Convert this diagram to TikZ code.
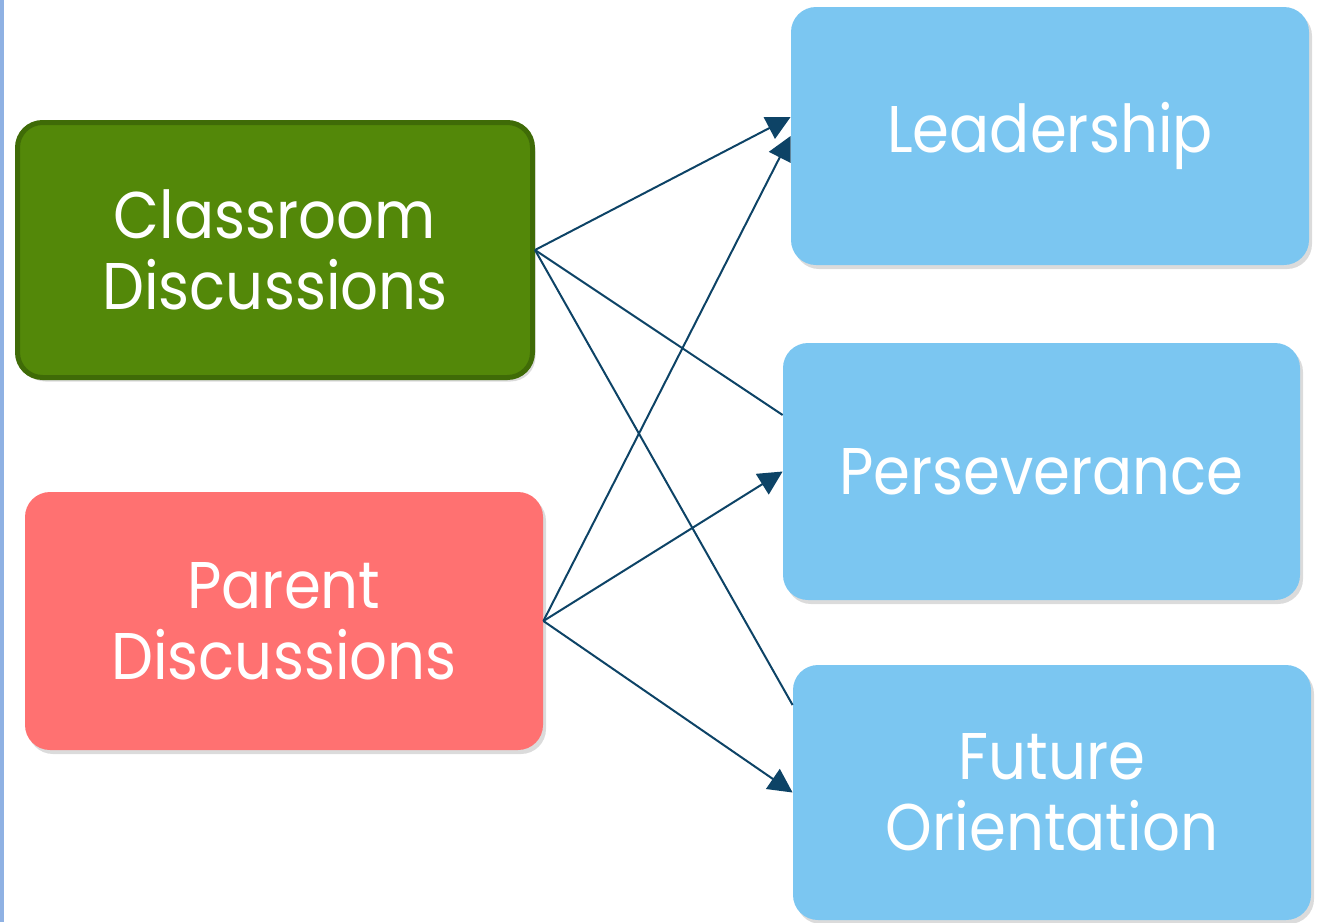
\documentclass[tikz,border=0pt]{standalone}
\usepackage{fontspec}
\setmainfont{Poppins}[FakeStretch=0.9]
\usetikzlibrary{arrows.meta,shadows}
\definecolor{grn}{HTML}{538809}
\definecolor{grnb}{HTML}{3F6B07}
\definecolor{pnk}{HTML}{FF7171}
\definecolor{sky}{HTML}{7BC6F1}
\definecolor{lnk}{HTML}{0D4366}
\definecolor{side}{HTML}{8FB1E3}
\begin{document}
\begin{tikzpicture}[x=0.5pt,y=-0.5pt,
  box/.style={rounded corners=12.5pt, minimum width=259pt, minimum height=129pt,
    text=white, align=center, font=\fontsize{33}{35.5}\selectfont, inner sep=0pt,
    drop shadow={shadow xshift=1.5pt, shadow yshift=-2pt, opacity=0.2, fill=black!70}},
  conn/.style={draw=lnk, line width=1pt},
  arr/.style={conn, -{Triangle[length=12pt,width=12pt]}}]
\useasboundingbox (0,0) rectangle (1320,922);
\fill[side] (0,0) rectangle (4,922);
\node[box, fill=grn, draw=grnb, line width=2.5pt, minimum width=257.5pt, minimum height=127.5pt] (c) at (275,250) {Classroom\\Discussions};
\node[box, fill=pnk] (p) at (284,621) {Parent\\Discussions};
\node[box, fill=sky] (l) at (1050,136) {Leadership};
\node[box, fill=sky, minimum width=258.5pt, minimum height=128.5pt] (s) at (1041.5,471.5) {Perseverance};
\node[box, fill=sky, minimum height=127.5pt] (f) at (1052,792.5) {Future\\Orientation};
\draw[arr] (c.east) -- ([yshift=9.5pt]l.west);
\draw[conn] (c.east) -- ([yshift=28.25pt]s.west);
\draw[conn] (c.east) -- ([yshift=43.75pt]f.west);
\draw[arr] (p.east) -- (l.west);
\draw[arr] (p.east) -- (s.west);
\draw[arr] (p.east) -- (f.west);
\end{tikzpicture}
\end{document}
